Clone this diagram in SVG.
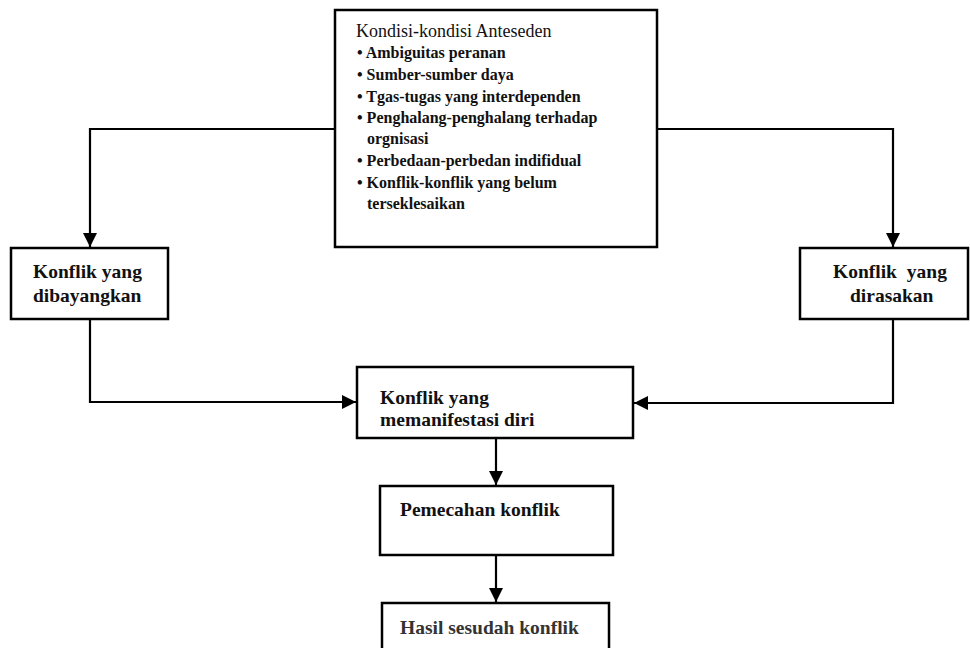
<svg xmlns="http://www.w3.org/2000/svg" width="970" height="648" viewBox="0 0 970 648">
<style>
.box{fill:#fff;stroke:#000;stroke-width:2.5}
.lbl{font-family:"Liberation Serif","Times New Roman",serif;font-size:19.5px;font-weight:bold;fill:#111}
.lst{font-family:"Liberation Serif","Times New Roman",serif;font-size:16px;fill:#111}
.b{font-weight:bold}
.con{fill:none;stroke:#000;stroke-width:2.2}
</style>
<defs>
<marker id="ah" markerUnits="userSpaceOnUse" markerWidth="16" markerHeight="16" refX="14" refY="7" orient="auto">
<path d="M0,0 L14,7 L0,14 z" fill="#000"/>
</marker>
</defs>
<rect width="970" height="648" fill="#fff"/>
<g id="connectors">
<path class="con" d="M335,129 H90 V247" marker-end="url(#ah)"/>
<path class="con" d="M657,129 H893 V247" marker-end="url(#ah)"/>
<path class="con" d="M90,319 V402 H356" marker-end="url(#ah)"/>
<path class="con" d="M893,319 V403 H634" marker-end="url(#ah)"/>
<path class="con" d="M496,438 V485" marker-end="url(#ah)"/>
<path class="con" d="M496,555 V602" marker-end="url(#ah)"/>
</g>
<g id="anteseden">
<rect class="box" x="335" y="10" width="322" height="237"/>
<text class="lst" x="356" y="37" style="font-size:18px">Kondisi-kondisi Anteseden</text>
<text class="lst b" x="357" y="58">• Ambiguitas peranan</text>
<text class="lst b" x="357" y="80">• Sumber-sumber daya</text>
<text class="lst b" x="357" y="102">• Tgas-tugas yang interdependen</text>
<text class="lst b" x="357" y="123">• Penghalang-penghalang terhadap</text>
<text class="lst b" x="367" y="144">orgnisasi</text>
<text class="lst b" x="357" y="166">• Perbedaan-perbedan indifidual</text>
<text class="lst b" x="357" y="188">• Konflik-konflik yang  belum</text>
<text class="lst b" x="367" y="209">terseklesaikan</text>
</g>
<g id="dibayangkan">
<rect class="box" x="11" y="248" width="157" height="71"/>
<text class="lbl" x="33" y="278">Konflik yang</text>
<text class="lbl" x="33" y="302">dibayangkan</text>
</g>
<g id="dirasakan">
<rect class="box" x="800" y="248" width="168" height="71"/>
<text class="lbl" x="833" y="278" word-spacing="5">Konflik yang</text>
<text class="lbl" x="850" y="302">dirasakan</text>
</g>
<g id="manifestasi">
<rect class="box" x="357" y="367" width="276" height="71"/>
<text class="lbl" x="380" y="404">Konflik yang</text>
<text class="lbl" x="380" y="426">memanifestasi diri</text>
</g>
<g id="pemecahan">
<rect class="box" x="380" y="486" width="233" height="69"/>
<text class="lbl" x="400" y="516">Pemecahan konflik</text>
</g>
<g id="hasil">
<rect class="box" x="382" y="603" width="227" height="60" stroke="#333"/>
<text class="lbl" x="400" y="634" style="fill:#333">Hasil sesudah konflik</text>
</g>
</svg>
